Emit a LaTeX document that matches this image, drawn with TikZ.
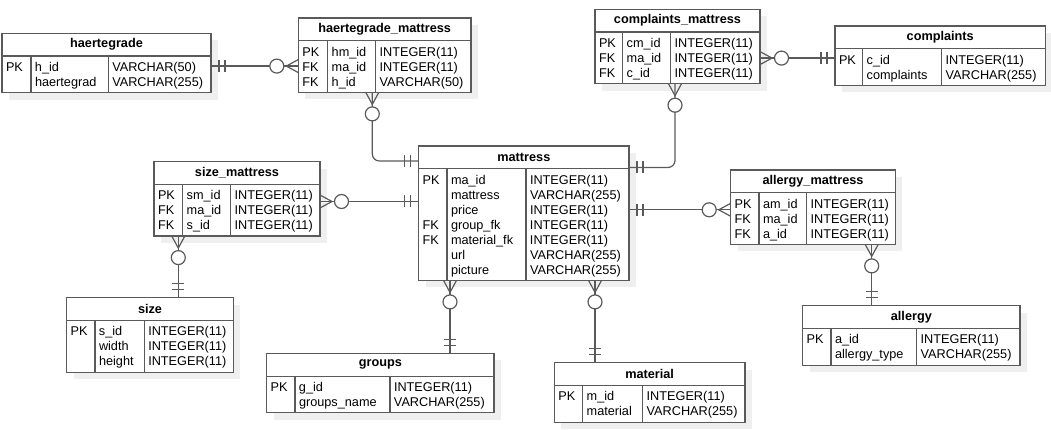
\documentclass[tikz,border=0pt]{standalone}
\usepackage{fontspec}
\setmainfont{Liberation Sans}
\usepackage{xcolor}
\usetikzlibrary{positioning,backgrounds}

\definecolor{erline}{HTML}{5A5A5A}
\definecolor{ershade}{HTML}{EFEFEF}
\newcommand{\erfont}{\fontsize{12.7}{15}\selectfont}

% crow's foot ends
\pgfdeclarearrow{
  name = ermany,
  setup code = {
    \pgfarrowssettipend{0pt}
    \pgfarrowssetlineend{0pt}
    \pgfarrowssetbackend{-29pt}
    \pgfarrowssetvisualbackend{-29pt}
    \pgfarrowsupperhullpoint{0pt}{7pt}
    \pgfarrowsupperhullpoint{-29pt}{7pt}
  },
  drawing code = {
    \pgfpathmoveto{\pgfpoint{0pt}{6.5pt}}
    \pgfpathlineto{\pgfpoint{-12pt}{0pt}}
    \pgfpathlineto{\pgfpoint{0pt}{-6.5pt}}
    \pgfusepathqstroke
    \pgfpathcircle{\pgfpoint{-21.5pt}{0pt}}{7pt}
    \pgfsetfillcolor{white}
    \pgfusepathqfillstroke
  },
  defaults = {}
}
\pgfdeclarearrow{
  name = erone,
  setup code = {
    \pgfarrowssettipend{0pt}
    \pgfarrowssetlineend{0pt}
    \pgfarrowssetbackend{-15pt}
    \pgfarrowssetvisualbackend{-15pt}
    \pgfarrowsupperhullpoint{0pt}{6pt}
    \pgfarrowsupperhullpoint{-15pt}{6pt}
  },
  drawing code = {
    \pgfpathmoveto{\pgfpoint{-8pt}{6pt}}
    \pgfpathlineto{\pgfpoint{-8pt}{-6pt}}
    \pgfpathmoveto{\pgfpoint{-14pt}{6pt}}
    \pgfpathlineto{\pgfpoint{-14pt}{-6pt}}
    \pgfusepathqstroke
  },
  defaults = {}
}

\tikzstyle{tabhead} = [rectangle, draw=erline, line width=1.2pt, fill=white,
  font=\erfont\bfseries, minimum height=22.8pt, inner xsep=0pt, outer sep=0pt]
\tikzstyle{tabbody} = [rectangle, draw=erline, line width=1.2pt, fill=white,
  font=\erfont, inner xsep=0pt, inner ysep=1.8pt, text height=13.5pt, outer sep=0pt]
\tikzstyle{tabline} = [draw=erline, line width=1.2pt]
\tikzstyle{shade} = [fill=ershade]
\tikzstyle{relation} = [draw=erline, line width=1.2pt, rounded corners=7pt]

% table: name, title, north west corner, width, key column, name column, rows
\newcommand{\ertable}[7]{%
  \node[tabhead, minimum width=#4pt, anchor=north west] (#1) at (#3) {#2};
  \node[tabbody, below=0pt of #1] (#1-b) {\begin{tabular}[t]{@{\hspace{4pt}}p{\dimexpr#5pt-4pt\relax}@{\hspace{4pt}}p{\dimexpr#6pt-4pt\relax}@{\hspace{4pt}}p{\dimexpr#4pt-#5pt-#6pt-4pt\relax}@{}}#7\end{tabular}};
  \draw[tabline] ([xshift=#5pt]#1-b.north west) -- ([xshift=#5pt]#1-b.south west);
  \draw[tabline] ([xshift=#5pt+#6pt]#1-b.north west) -- ([xshift=#5pt+#6pt]#1-b.south west);
  \begin{scope}[on background layer]
    \fill[shade] ([shift={(7pt,-7pt)}]#1.north west) rectangle ([shift={(7pt,-7pt)}]#1-b.south east);
  \end{scope}
}

\begin{document}
\begin{tikzpicture}[x=1pt, y=1pt]
    \useasboundingbox (0,0) rectangle (1051,-430);
    % nodes
    \ertable{hg}{haertegrade}{2,-33.3}{209}{29}{77.3}{PK & h\_id & VARCHAR(50)\\ & haertegrad & VARCHAR(255)}
    \ertable{hgm}{haertegrade\_mattress}{298.3,-18}{172.7}{29.4}{48}{PK & hm\_id & INTEGER(11)\\FK & ma\_id & INTEGER(11)\\FK & h\_id & VARCHAR(50)}
    \ertable{cm}{complaints\_mattress}{595,-9.3}{165}{27.7}{48}{PK & cm\_id & INTEGER(11)\\FK & ma\_id & INTEGER(11)\\FK & c\_id & INTEGER(11)}
    \ertable{c}{complaints}{835,-26}{210.5}{27.7}{79}{PK & c\_id & INTEGER(11)\\ & complaints & VARCHAR(255)}
    \ertable{m}{mattress}{418.7,-146}{210.3}{28.3}{79}{PK & ma\_id & INTEGER(11)\\ & mattress & VARCHAR(255)\\ & price & INTEGER(11)\\FK & group\_fk & INTEGER(11)\\FK & material\_fk & INTEGER(11)\\ & url & VARCHAR(255)\\ & picture & VARCHAR(255)}
    \ertable{sm}{size\_mattress}{154,-161.7}{166}{28.7}{48}{PK & sm\_id & INTEGER(11)\\FK & ma\_id & INTEGER(11)\\FK & s\_id & INTEGER(11)}
    \ertable{am}{allergy\_mattress}{730.7,-170}{164.6}{28.3}{47.7}{PK & am\_id & INTEGER(11)\\FK & ma\_id & INTEGER(11)\\FK & a\_id & INTEGER(11)}
    \ertable{s}{size}{66.7,-297.7}{166.6}{28.3}{49.3}{PK & s\_id & INTEGER(11)\\ & width & INTEGER(11)\\ & height & INTEGER(11)}
    \ertable{g}{groups}{266.7,-353.3}{227.3}{28.3}{95}{PK & g\_id & INTEGER(11)\\ & groups\_name & VARCHAR(255)}
    \ertable{mat}{material}{554.3,-362.7}{190.7}{28.4}{60}{PK & m\_id & INTEGER(11)\\ & material & VARCHAR(255)}
    \ertable{a}{allergy}{802.7,-305.7}{217.3}{28.3}{85.7}{PK & a\_id & INTEGER(11)\\ & allergy\_type & VARCHAR(255)}

    % edges
    \coordinate (hg-out) at ([yshift=-10pt]hg.south east);
    \coordinate (hgm-out) at ([xshift=74pt]hgm-b.south west);
    \coordinate (cm-out) at ([xshift=80pt]cm-b.south west);
    \coordinate (cm-side) at ([yshift=-26pt]cm.south east);
    \coordinate (sm-side) at ([yshift=-17pt]sm.south east);
    \coordinate (sm-out) at ([xshift=24.3pt]sm-b.south west);
    \coordinate (am-side) at ([yshift=-17pt]am.south west);
    \coordinate (am-out) at ([xshift=141pt]am-b.south west);
    \coordinate (m-hgm) at ([yshift=7.8pt]m.south west);
    \coordinate (m-cm) at ([yshift=1.3pt]m.south east);
    \coordinate (m-g) at ([xshift=31.3pt]m-b.south west);
    \coordinate (m-mat) at ([xshift=176.3pt]m-b.south west);
         \path [relation, erone-ermany] (hg-out) -- (hg-out -| hgm.west);
         \path [relation, ermany-erone] (hgm-out) |- (m-hgm);
         \path [relation, ermany-erone] (cm-side) -- (cm-side -| c.west);
         \path [relation, ermany-erone] (cm-out) |- (m-cm);
         \path [relation, ermany-erone] (sm-side) -- (sm-side -| m.west);
         \path [relation, ermany-erone] (sm-out) -- (sm-out |- s.north);
         \path [relation, ermany-erone] (am-side) -- (am-side -| m.east);
         \path [relation, ermany-erone] (am-out) -- (am-out |- a.north);
         \path [relation, ermany-erone] (m-g) -- (m-g |- g.north);
         \path [relation, ermany-erone] (m-mat) -- (m-mat |- mat.north);

\end{tikzpicture}
\end{document}
